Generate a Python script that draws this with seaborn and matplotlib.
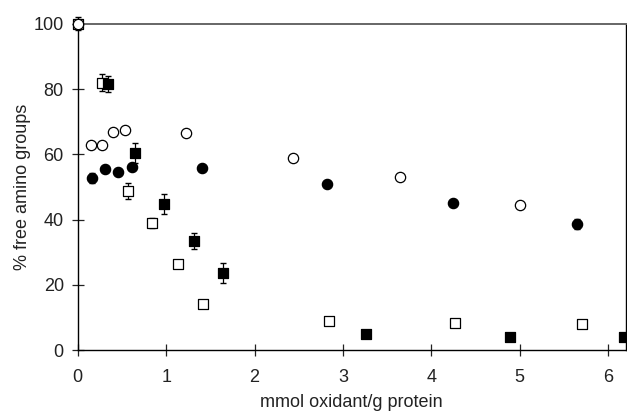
import numpy as np
import pandas as pd
import matplotlib
matplotlib.use("Agg")
import matplotlib.pyplot as plt
import seaborn as sns

# open circles
oc_x = [0.0, 0.15, 0.28, 0.40, 0.53, 1.22, 2.43, 3.65, 5.00]
oc_y = [100, 63, 63, 67, 67.5, 66.5, 59, 53, 44.5]
# filled circles
fc_x = [0.16, 0.31, 0.45, 0.61, 1.41, 2.82, 4.24, 5.65]
fc_y = [52.8, 55.5, 54.6, 56.1, 55.7, 51, 45, 38.7]
fc_e = [1.5, 0.5, 0.5, 1.0, 0.5, 0.5, 0.8, 1.6]
# open squares
os_x = [0.0, 0.28, 0.57, 0.84, 1.13, 1.42, 2.84, 4.27, 5.70]
os_y = [100, 82, 48.8, 39, 26.4, 14.2, 9, 8.3, 8]
os_e = [2.0, 2.5, 2.5, 1.5, 0.5, 0.5, 0.5, 0.5, 0.5]
# filled squares
fs_x = [0.34, 0.65, 0.98, 1.31, 1.64, 3.26, 4.89, 6.18]
fs_y = [81.6, 60.5, 44.8, 33.4, 23.6, 5, 4, 4]
fs_e = [2.5, 3.0, 3.0, 2.5, 3.0, 0.5, 0.5, 0.5]

sns.set_style("ticks")
plt.rcParams['font.family'] = ['Liberation Sans', 'DejaVu Sans']

fig = plt.figure(figsize=(6.27, 4.11), dpi=100)
ax = fig.add_axes([0.124, 0.148, 0.874, 0.794])

# error bars first, under the markers
for xs, ys, es in [(os_x, os_y, os_e), (fs_x, fs_y, fs_e), (fc_x, fc_y, fc_e)]:
    ax.errorbar(xs, ys, yerr=es, fmt='none', ecolor='black', elinewidth=0.9,
                capsize=2, zorder=1, clip_on=False)

# squares under circles (they overlap at 0,100)
kw = dict(s=55, linewidth=0.9, edgecolor='black', ax=ax, zorder=3, clip_on=False)
sns.scatterplot(x=os_x, y=os_y, marker='s', color='white', **kw)
sns.scatterplot(x=fs_x, y=fs_y, marker='s', color='black', **kw)
sns.scatterplot(x=oc_x, y=oc_y, marker='o', color='white', **kw)
sns.scatterplot(x=fc_x, y=fc_y, marker='o', color='black', **kw)

ax.set_xlim(0, 6.2)
ax.set_ylim(0, 100)
ax.set_xticks(range(0, 7))
ax.set_yticks(range(0, 101, 20))
ax.tick_params(direction='inout', length=8, width=0.9, labelsize=13,
               colors='#222222')
ax.tick_params(axis='y', pad=6)
ax.tick_params(axis='x', length=9, pad=9)
ax.set_xlabel("mmol oxidant/g protein", fontsize=13, labelpad=6, color='#222222')
ax.set_ylabel("% free amino groups", fontsize=13, labelpad=2, color='#222222')

for side in ['left', 'bottom', 'right']:
    ax.spines[side].set_color('black')
    ax.spines[side].set_linewidth(1.0)
ax.spines['top'].set_color('#666666')
ax.spines['top'].set_linewidth(1.4)

fig.savefig("out.png", dpi=100)
